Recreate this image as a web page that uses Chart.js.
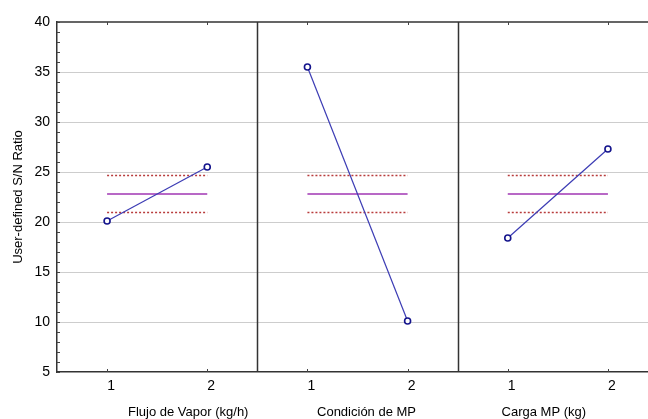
<!DOCTYPE html>
<html lang="es">
<head>
  <meta charset="UTF-8">
  <title>Efectos principales S/N</title>
  <script src="https://cdn.jsdelivr.net/npm/chart.js@4.4.2/dist/chart.umd.min.js"></script>
  <style>
    body {
      margin: 0;
      padding: 0;
      background: #fff;
      overflow: hidden;
    }
    canvas { display: block; }
  </style>
</head>
<body>

  <canvas id="grafico" width="648" height="419"></canvas>

  <script>
    // datos
    const factores = ['Flujo de Vapor (kg/h)', 'Condición de MP', 'Carga MP (kg)'];
    const niveles = ['1', '2'];
    const snNivel1 = [20.1, 35.5, 18.4];
    const snNivel2 = [25.5, 10.1, 27.3];
    const mediaGlobal = 22.8;
    const limiteSup = 24.65;
    const limiteInf = 20.95;
    const yTicks = [5, 10, 15, 20, 25, 30, 35, 40];

    const FUENTE = "'Liberation Sans', Arial, sans-serif";

    // cada factor ocupa dos unidades del eje x: nivel 1 -> 2i+1, nivel 2 -> 2i+2
    const datasets = [];
    factores.forEach((f, i) => {
      const x1 = 2 * i + 1, x2 = 2 * i + 2;
      datasets.push({
        label: f,
        data: [{ x: x1, y: snNivel1[i] }, { x: x2, y: snNivel2[i] }],
        borderColor: '#3c3cb4',
        borderWidth: 1.2,
        pointRadius: 3,
        pointBorderWidth: 1.6,
        pointBorderColor: '#14148c',
        pointBackgroundColor: '#fff',
        order: 0
      });
      datasets.push({
        label: 'media',
        data: [{ x: x1, y: mediaGlobal }, { x: x2, y: mediaGlobal }],
        borderColor: '#b868c6',
        borderWidth: 2,
        pointRadius: 0,
        order: 1
      });
      [limiteSup, limiteInf].forEach(v => {
        datasets.push({
          label: 'limite',
          data: [{ x: x1, y: v }, { x: x2, y: v }],
          borderColor: '#b83c3c',
          borderWidth: 1.5,
          borderDash: [2, 2],
          pointRadius: 0,
          order: 2
        });
      });
    });

    // marco, separadores, marcas menores y titulos de cada panel
    const panelPlugin = {
      id: 'paneles',
      afterDraw(chart) {
        const { ctx, chartArea: a, scales: { x, y } } = chart;
        ctx.save();
        ctx.strokeStyle = '#333';
        ctx.lineWidth = 1.5;
        ctx.beginPath();
        ctx.moveTo(a.left, a.top);
        ctx.lineTo(a.right + 2, a.top);
        [2.5, 4.5].forEach(v => {
          const px = Math.round(x.getPixelForValue(v)) + 0.5;
          ctx.moveTo(px, a.top);
          ctx.lineTo(px, a.bottom);
        });
        ctx.stroke();

        // marcas cortas hacia dentro
        ctx.lineWidth = 1;
        ctx.strokeStyle = '#444';
        ctx.beginPath();
        for (let v = yTicks[0]; v <= yTicks[yTicks.length - 1]; v++) {
          const py = Math.round(y.getPixelForValue(v)) + 0.5;
          ctx.moveTo(a.left, py);
          ctx.lineTo(a.left + 3, py);
        }
        for (let v = 1; v <= 6; v++) {
          const px = Math.round(x.getPixelForValue(v)) + 0.5;
          ctx.moveTo(px, a.top);
          ctx.lineTo(px, a.top + 3);
          ctx.moveTo(px, a.bottom);
          ctx.lineTo(px, a.bottom - 3);
        }
        ctx.stroke();

        // titulos de los factores
        const centros = [1.81, 3.59, 5.36];
        ctx.fillStyle = '#000';
        ctx.font = '13px ' + FUENTE;
        ctx.textAlign = 'center';
        ctx.textBaseline = 'middle';
        factores.forEach((f, i) => {
          ctx.fillText(f, x.getPixelForValue(centros[i]), a.bottom + 40);
        });
        ctx.restore();
      }
    };

    new Chart(document.getElementById('grafico').getContext('2d'), {
      type: 'line',
      data: { datasets },
      plugins: [panelPlugin],
      options: {
        responsive: false,
        animation: false,
        layout: { autoPadding: false, padding: { top: 22, left: 0, right: 0, bottom: 0 } },
        plugins: {
          legend: { display: false },
          tooltip: { enabled: false }
        },
        scales: {
          x: {
            type: 'linear',
            min: 0.5,
            max: 6.4,
            afterBuildTicks: s => { s.ticks = [1, 2, 3, 4, 5, 6].map(v => ({ value: v })); },
            afterFit: s => { s.height = 47; s.paddingLeft = 0; s.paddingRight = 0; },
            grid: { display: false, drawTicks: false },
            border: { display: true, color: '#333', width: 1.5 },
            ticks: {
              color: '#000',
              font: { family: FUENTE, size: 14 },
              padding: 6,
              labelOffset: 4,
              maxRotation: 0,
              callback: v => niveles[(v - 1) % 2]
            }
          },
          y: {
            min: yTicks[0],
            max: yTicks[yTicks.length - 1],
            afterBuildTicks: s => { s.ticks = yTicks.map(v => ({ value: v })); },
            afterFit: s => { s.width = 57; },
            grid: {
              drawTicks: false,
              color: c => (c.tick && (c.tick.value === yTicks[0] || c.tick.value === yTicks[yTicks.length - 1])) ? 'rgba(0,0,0,0)' : '#9a9a9a',
              lineWidth: 1
            },
            border: { display: true, color: '#333', width: 1.5, dash: [1, 1] },
            ticks: {
              color: '#000',
              font: { family: FUENTE, size: 14 },
              padding: 7
            },
            title: {
              display: true,
              text: 'User-defined S/N Ratio',
              color: '#000',
              font: { family: FUENTE, size: 13 },
              padding: { top: 11, bottom: 0 }
            }
          }
        }
      }
    });
  </script>

</body>
</html>
